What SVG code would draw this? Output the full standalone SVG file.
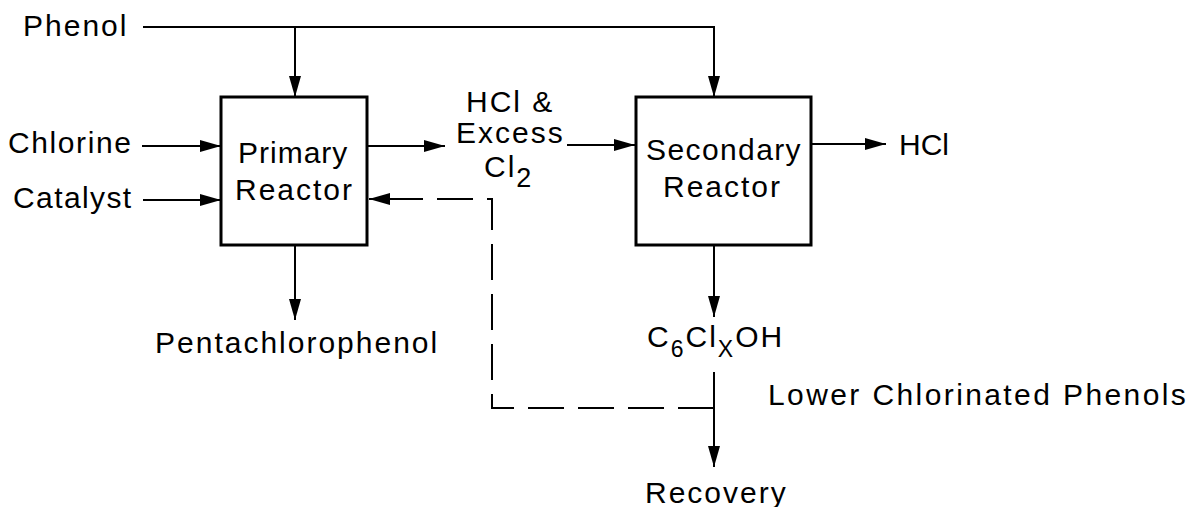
<svg xmlns="http://www.w3.org/2000/svg" width="1194" height="507" viewBox="0 0 1194 507">
<style>
text{font-family:"Liberation Sans",Arial,sans-serif;font-size:30px;letter-spacing:2px;fill:#000}
.sub{font-size:23px}
.ln{fill:none;stroke:#000;stroke-width:2}
.box{fill:#fff;stroke:#000;stroke-width:3}
.dash{fill:none;stroke:#000;stroke-width:2;stroke-dasharray:36 14}
</style>
<defs>
<marker id="ah" markerUnits="userSpaceOnUse" markerWidth="22" markerHeight="12" refX="21" refY="6" orient="auto" viewBox="0 0 22 12">
<path d="M0,0 L21,6 L0,12 z" fill="#000"/>
</marker>
</defs>
<rect width="1194" height="507" fill="#fff"/>
<g id="connectors">
<path class="ln" d="M143,27 H714 V97" marker-end="url(#ah)"/>
<path class="ln" d="M295,27 V97" marker-end="url(#ah)"/>
<path class="ln" d="M142,146 H221" marker-end="url(#ah)"/>
<path class="ln" d="M143,200 H221" marker-end="url(#ah)"/>
<path class="ln" d="M367,146 H445" marker-end="url(#ah)"/>
<path class="ln" d="M567,145 H635" marker-end="url(#ah)"/>
<path class="ln" d="M811,144 H886" marker-end="url(#ah)"/>
<path class="ln" d="M295,245 V320" marker-end="url(#ah)"/>
<path class="ln" d="M714,245 V317" marker-end="url(#ah)"/>
<path class="ln" d="M714,372 V467" marker-end="url(#ah)"/>
<path class="dash" d="M714,408 H492 V199 H369" marker-end="url(#ah)"/>
</g>
<g id="phenol"><text x="23" y="36">Phenol</text></g>
<g id="chlorine"><text x="8" y="153" style="letter-spacing:1.6px">Chlorine</text></g>
<g id="catalyst"><text x="13" y="208" style="letter-spacing:1.4px">Catalyst</text></g>
<g id="primary-reactor">
<rect class="box" x="221" y="97" width="146" height="148"/>
<text x="238" y="163" style="letter-spacing:1px">Primary</text>
<text x="235" y="200">Reactor</text>
</g>
<g id="hcl-excess">
<text x="466" y="112">HCl &amp;</text>
<text x="456" y="143">Excess</text>
<text x="484" y="177">Cl<tspan dy="10" style="font-size:27px">2</tspan></text>
</g>
<g id="secondary-reactor">
<rect class="box" x="636" y="97" width="175" height="148"/>
<text x="646" y="160" style="letter-spacing:1.4px">Secondary</text>
<text x="663" y="197">Reactor</text>
</g>
<g id="hcl"><text x="899" y="155" style="letter-spacing:0">HCl</text></g>
<g id="pentachlorophenol"><text x="155" y="353">Pentachlorophenol</text></g>
<g id="c6clxoh"><text x="647" y="347">C<tspan class="sub" dy="10">6</tspan><tspan dy="-10">Cl</tspan><tspan class="sub" dy="10">X</tspan><tspan dy="-10">OH</tspan></text></g>
<g id="lower"><text x="768" y="405" style="letter-spacing:2.4px">Lower Chlorinated Phenols</text></g>
<g id="recovery"><text x="645" y="503">Recovery</text></g>
</svg>
